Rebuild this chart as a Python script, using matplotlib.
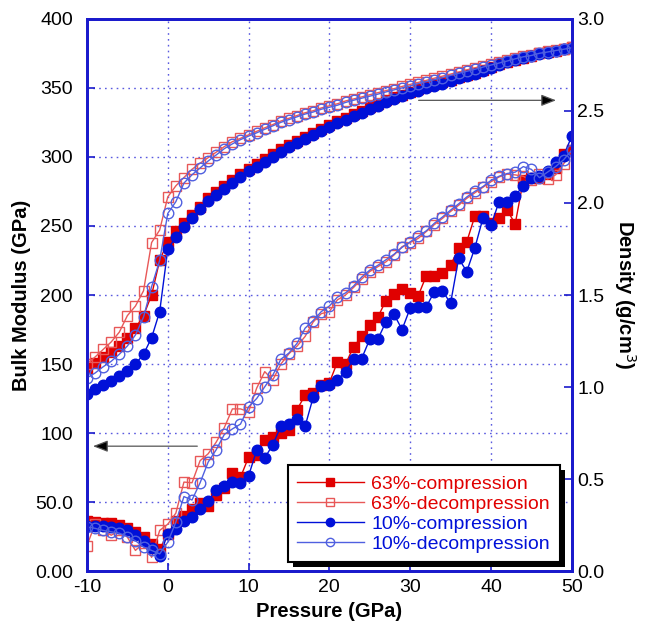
import matplotlib
matplotlib.use("Agg")
import matplotlib.pyplot as plt
from matplotlib.lines import Line2D
from matplotlib import patheffects as pe

plt.rcParams['font.family'] = ['Liberation Sans', 'DejaVu Sans']
plt.rcParams['axes.unicode_minus'] = False

# pressure steps (GPa), same for all series
pressure = list(range(-10, 51))

# bulk modulus (GPa), left axis
k_63_comp = [36, 35.5, 35, 34.5, 33.5, 31, 28, 25, 20, 16,
             27, 36, 40, 45, 49.5, 47, 55, 60, 71, 68,
             82.5, 84, 95, 97, 100, 102, 117, 127.5, 129, 135,
             136.5, 151.5, 150, 162.5, 170, 178, 184, 196, 200.5, 204,
             201.5, 199.5, 214, 214, 216, 221.5, 234, 238.5, 257, 257,
             252, 255.5, 261.5, 251.5, 283, 285, 285, 288, 292, 302,
             305]
k_63_decomp = [18.5, 34, 30, 26, 29.5, 24.6, 15, 20.5, 10, 29.5,
               34, 42, 64.5, 64, 80, 85, 93.5, 104, 117.5, 117.5,
               115.5, 132.5, 144.5, 138.5, 150, 157.5, 163, 170, 180.5, 186.5,
               188, 196.5, 200, 205.5, 211.5, 217, 220.5, 224, 229, 235,
               238, 241, 246, 251, 255.5, 260.5, 265, 270, 274, 278,
               282, 285.5, 287.5, 287, 286, 283, 288, 284, 287, 295,
               305]
k_10_comp = [33, 33, 32.5, 32, 31, 29.5, 26.5, 22, 17, 11,
             27, 30.5, 36, 39, 45, 51, 58.5, 62, 64.5, 63.5,
             69, 87.5, 82, 91.5, 105, 106.5, 110.5, 105, 126, 134,
             135, 138.5, 144.5, 153.5, 154, 168, 168, 180.5, 186, 175,
             190.5, 191.5, 191.5, 202.5, 203, 194, 226.5, 217, 234, 255.5,
             250.5, 267.5, 267.5, 272, 279, 285, 286, 290, 296, 301,
             315]
k_10_decomp = [32, 31, 29.5, 28.5, 27.5, 25, 22, 17.5, 15, 12.5,
               21, 35.5, 54, 51.5, 64, 79, 88, 99, 103, 106.5,
               119, 125, 133.5, 142, 153.5, 158, 165, 176, 181.5, 188,
               192, 198.5, 201.5, 206.5, 213, 218, 221.5, 225.5, 229.5, 234.5,
               238.5, 242.5, 246.5, 252, 256.5, 261.5, 266, 271, 275, 278.5,
               283, 286, 288, 289, 293, 291, 285, 289, 293, 298,
               305]

# density (g/cm3), right axis
rho_63_comp = [1.103, 1.133, 1.163, 1.193, 1.223, 1.268, 1.320, 1.388, 1.500, 1.688,
               1.790, 1.845, 1.890, 1.935, 1.980, 2.025, 2.059, 2.093, 2.123, 2.156,
               2.186, 2.213, 2.239, 2.265, 2.291, 2.314, 2.336, 2.359, 2.381, 2.404,
               2.423, 2.445, 2.464, 2.483, 2.501, 2.520, 2.539, 2.558, 2.573, 2.588,
               2.603, 2.618, 2.633, 2.644, 2.655, 2.670, 2.685, 2.696, 2.708, 2.723,
               2.738, 2.753, 2.768, 2.779, 2.790, 2.801, 2.813, 2.820, 2.828, 2.839,
               2.846]
rho_63_decomp = [1.125, 1.163, 1.204, 1.245, 1.298, 1.388, 1.440, 1.523, 1.785, 1.853,
                 2.033, 2.093, 2.138, 2.183, 2.216, 2.246, 2.276, 2.306, 2.333, 2.351,
                 2.370, 2.389, 2.408, 2.426, 2.445, 2.460, 2.475, 2.490, 2.501, 2.516,
                 2.528, 2.539, 2.554, 2.565, 2.576, 2.588, 2.599, 2.610, 2.621, 2.633,
                 2.644, 2.655, 2.666, 2.678, 2.689, 2.700, 2.711, 2.723, 2.734, 2.745,
                 2.756, 2.768, 2.779, 2.786, 2.798, 2.805, 2.816, 2.824, 2.831, 2.839,
                 2.846]
rho_10_comp = [0.960, 0.990, 1.013, 1.035, 1.058, 1.088, 1.125, 1.178, 1.268, 1.410,
               1.748, 1.815, 1.871, 1.917, 1.965, 2.010, 2.044, 2.078, 2.108, 2.141,
               2.171, 2.198, 2.224, 2.250, 2.276, 2.303, 2.325, 2.348, 2.370, 2.393,
               2.411, 2.434, 2.453, 2.471, 2.490, 2.509, 2.528, 2.546, 2.565, 2.580,
               2.595, 2.610, 2.625, 2.636, 2.648, 2.663, 2.678, 2.689, 2.700, 2.715,
               2.734, 2.749, 2.764, 2.775, 2.786, 2.798, 2.809, 2.816, 2.824, 2.835,
               2.843]
rho_10_decomp = [1.050, 1.076, 1.110, 1.140, 1.178, 1.223, 1.283, 1.380, 1.545, 1.688,
                 1.943, 2.007, 2.108, 2.153, 2.190, 2.228, 2.261, 2.295, 2.321, 2.344,
                 2.363, 2.381, 2.400, 2.419, 2.438, 2.453, 2.468, 2.483, 2.494, 2.509,
                 2.520, 2.531, 2.546, 2.558, 2.569, 2.580, 2.591, 2.603, 2.614, 2.625,
                 2.636, 2.648, 2.659, 2.670, 2.681, 2.693, 2.704, 2.715, 2.726, 2.738,
                 2.749, 2.760, 2.771, 2.783, 2.794, 2.801, 2.813, 2.820, 2.828, 2.835,
                 2.843]

labels = ['63%-compression', '63%-decompression', '10%-compression', '10%-decompression']
left_ticks = [0, 50, 100, 150, 200, 250, 300, 350, 400]
left_ticklabels = ['0.00', '50.0', '100', '150', '200', '250', '300', '350', '400']
right_ticks = [0, 0.5, 1.0, 1.5, 2.0, 2.5, 3.0]

RED = '#e00000'
RED_L = '#e85858'
BLUE = '#0010d8'
BLUE_L = '#5060e0'
AXBLUE = '#1a1acc'
ms = 7.6

styles = [
    dict(color=RED, marker='s', mfc=RED, mec=RED, lw=1.0, ms=ms),
    dict(color=RED_L, marker='s', mfc='none', mec=RED_L, mew=1.0, lw=1.0, ms=ms),
    dict(color=BLUE, marker='o', mfc=BLUE, mec=BLUE, lw=1.0, ms=ms),
    dict(color=BLUE_L, marker='o', mfc='none', mec=BLUE_L, mew=1.0, lw=1.0, ms=ms),
]

fig = plt.figure(figsize=(6.49, 6.29), dpi=100)
ax = fig.add_subplot(111)
fig.subplots_adjust(left=0.134, right=0.881, top=0.970, bottom=0.092)
ax2 = ax.twinx()

for k, st in zip([k_63_comp, k_63_decomp, k_10_comp, k_10_decomp], styles):
    ax.plot(pressure, k, **st)
for r, st in zip([rho_63_comp, rho_63_decomp, rho_10_comp, rho_10_decomp], styles):
    ax2.plot(pressure, r, **st)

ax.set_xlim(-10, 50)
ax.set_ylim(0, 400)
ax2.set_ylim(0, 3.0)
ax.set_xticks(range(-10, 51, 10))
ax.set_yticks(left_ticks)
ax.set_yticklabels(left_ticklabels)
ax2.set_yticks(right_ticks)
ax2.set_yticklabels(['%.1f' % v for v in right_ticks])

ax.grid(True, color='#5a5ae0', linestyle=(0, (1.2, 3.0)), linewidth=1.0)
ax.set_axisbelow(True)

for a in (ax, ax2):
    for s in a.spines.values():
        s.set_color(AXBLUE)
        s.set_linewidth(2.0)
ax.tick_params(axis='x', direction='in', length=6, width=1.2, color=AXBLUE,
               labelsize=14, pad=6)
ax.tick_params(axis='y', direction='in', length=6, width=1.2, color=AXBLUE,
               labelsize=14, pad=10)
ax2.tick_params(axis='y', direction='in', length=6, width=1.2, color=AXBLUE,
                labelsize=14, pad=4)

ax.set_xlabel('Pressure (GPa)', fontsize=14.5, fontweight='bold', labelpad=4)
ax.set_ylabel('Bulk Modulus (GPa)', fontsize=14.5, fontweight='bold', labelpad=3)
ax2.set_ylabel('Density (g/cm$^3$)', fontsize=14.5, fontweight='bold',
               rotation=270, labelpad=24)

# arrows pointing to the axis each group belongs to
ax.annotate('', xy=(48.4, 341), xytext=(30.7, 341),
            arrowprops=dict(arrowstyle='-|>,head_length=0.9,head_width=0.35',
                            edgecolor='#555555', facecolor='black', lw=0.9))
ax.annotate('', xy=(-9.6, 90.5), xytext=(4.0, 90.5),
            arrowprops=dict(arrowstyle='-|>,head_length=0.9,head_width=0.35',
                            edgecolor='#555555', facecolor='black', lw=0.9))

handles = [Line2D([], [], **st) for st in styles]
for h in handles:
    h.set_markersize(6)
leg = ax2.legend(handles, labels, loc='lower right', bbox_to_anchor=(0.975, 0.016),
                 fontsize=14, frameon=True, fancybox=False, framealpha=1.0,
                 handlelength=3.4, labelspacing=0.12, borderpad=0.5,
                 handletextpad=0.4, borderaxespad=0.0)
leg.get_frame().set_edgecolor('black')
leg.get_frame().set_facecolor('white')
leg.get_frame().set_linewidth(1.5)
leg.get_frame().set_path_effects([
    pe.SimplePatchShadow(offset=(3.5, -3.5), shadow_rgbFace='black', alpha=1.0),
    pe.Normal()])
for t, c in zip(leg.get_texts(), [RED, RED, BLUE, BLUE]):
    t.set_color(c)
leg.set_zorder(10)

fig.savefig('out.png', dpi=100)
